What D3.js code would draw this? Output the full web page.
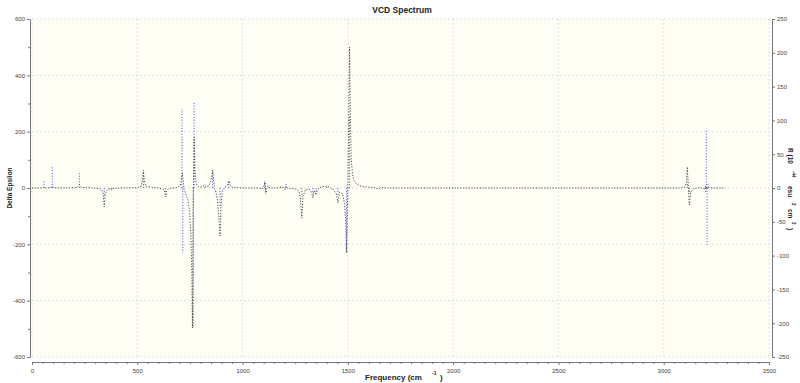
<!DOCTYPE html>
<html><head><meta charset="utf-8">
<script src="https://cdn.jsdelivr.net/npm/d3@7/dist/d3.min.js"></script>
<style>
body{margin:0;background:#fff;}
text{font-family:"Liberation Sans",Arial,sans-serif;}
</style></head>
<body><svg id="c" width="800" height="383"></svg>
<script>
// ---- data ----
const chartTitle = "VCD Spectrum";
const xTicks = [0,500,1000,1500,2000,2500,3000,3500];
const yLeftTicks = [600,400,200,0,-200,-400,-600];
const yRightTicks = [250,200,150,100,50,0,-50,-100,-150,-200,-250];
// Delta Epsilon spectrum (frequency, value)
const specFreq = [0,15,50,57,62,90,96,102,150,215,225,235,300,330,338,343,348,360,372,378,384,420,500,518,524,529,534,542,600,625,631,635,639,650,690,705,710,714,718,722,730,740,748,754,759,762,765,768,770,774,780,790,805,815,821,827,840,850,855,858,862,866,872,880,887,893,898,904,915,928,935,940,950,1000,1080,1095,1103,1107,1110,1114,1121,1126,1150,1195,1202,1206,1212,1250,1268,1275,1281,1287,1300,1318,1328,1334,1338,1344,1349,1354,1365,1377,1392,1400,1410,1430,1445,1453,1460,1475,1485,1490,1494,1500,1504,1508,1512,1516,1522,1530,1540,1555,1580,1620,1645,1660,1700,2000,2500,3000,3080,3100,3108,3112,3117,3122,3128,3140,3170,3195,3200,3204,3210,3230,3290];
const specDE   = [0,0,0,3,0,1,7,1,0,2,12,2,0,-4,-20,-67,-20,-3,-3,-8,-2,0,1,6,25,58,25,5,0,-5,-15,-32,-12,-2,2,10,30,53,25,-5,-20,-40,-80,-160,-300,-497,-100,100,181,60,15,5,3,8,10,4,8,25,45,64,30,0,-10,-40,-100,-170,-60,-10,2,10,25,12,3,0,0,-3,10,21,-18,-5,8,1,0,2,-5,6,0,-3,-12,-40,-107,-30,-5,-5,-15,-35,-10,-12,-25,-8,0,5,5,8,4,-5,-20,-53,-15,-20,-60,-120,-231,0,250,500,250,100,50,25,15,8,4,2,-3,1,0,0,0,0,0,3,20,75,0,-60,-15,-3,1,-3,8,-5,3,0,0];
// Rotational strengths (sticks)
const stickFreq = [57,96,225,343,378,529,635,712,716,766,770,821,858,893,935,1105,1109,1206,1281,1334,1349,1400,1453,1494,1508,3112,3122,3198,3202,3206,3210];
const stickR    = [12,31,22,-13,-4,27,-9,117,-96,-207,127,5,24,-28,12,10,-9,6,-13,-8,-6,4,-10,-95,108,8,-6,-8,86,-84,6];

// ---- layout ----
const svg = d3.select("#c");
const L=32, R=769, T=19, B=357;
const x = d3.scaleLinear().domain([0,3500]).range([L,R]);
const yL = d3.scaleLinear().domain([-600,600]).range([B,T]);
const yR = d3.scaleLinear().domain([-250,250]).range([B,T]);
const fmt = d => String(d);

svg.append("rect").attr("x",L).attr("y",T).attr("width",R-L).attr("height",B-T).attr("fill","#fffef4");

// grid
const grid = svg.append("g").attr("stroke","#cfcfcf").attr("stroke-width",0.8).attr("stroke-dasharray","1.5,2.5");
xTicks.forEach(v=>grid.append("line").attr("x1",x(v)).attr("x2",x(v)).attr("y1",T).attr("y2",B));
yLeftTicks.forEach(v=>grid.append("line").attr("x1",L).attr("x2",R).attr("y1",yL(v)).attr("y2",yL(v)));

// axes
const axCol="#777", txtCol="#444";
function styleAxis(g){
  g.select(".domain").attr("stroke",axCol);
  g.selectAll(".tick line").attr("stroke",axCol);
  g.selectAll(".tick text").attr("fill",txtCol).attr("font-size","6px").attr("font-family","Liberation Sans, Arial, sans-serif");
}
// bottom
const gx = svg.append("g").attr("transform",`translate(0,362)`)
  .call(d3.axisBottom(x).tickValues(xTicks).tickFormat(fmt).tickSize(3).tickSizeOuter(0).tickPadding(4));
styleAxis(gx);
const gxm = svg.append("g").attr("transform",`translate(0,362)`)
  .call(d3.axisBottom(x).tickValues(d3.range(0,3501,50).filter(v=>v%500)).tickSize(2).tickFormat(""));
gxm.select(".domain").remove(); gxm.selectAll("line").attr("stroke",axCol);
// left
const gl = svg.append("g").attr("transform",`translate(30,0)`)
  .call(d3.axisLeft(yL).tickValues(yLeftTicks).tickFormat(fmt).tickSize(3).tickSizeOuter(0).tickPadding(2));
styleAxis(gl);
const glm = svg.append("g").attr("transform",`translate(30,0)`)
  .call(d3.axisLeft(yL).tickValues([500,300,100,-100,-300,-500]).tickSize(2).tickFormat(""));
glm.select(".domain").remove(); glm.selectAll("line").attr("stroke",axCol);
// right
const gr = svg.append("g").attr("transform",`translate(772,0)`)
  .call(d3.axisRight(yR).tickValues(yRightTicks).tickFormat(fmt).tickSize(3).tickSizeOuter(0).tickPadding(2));
styleAxis(gr);

// sticks
svg.append("g").selectAll("line").data(stickFreq).join("line")
  .attr("x1",(d)=>x(d)).attr("x2",(d)=>x(d))
  .attr("y1",yR(0)).attr("y2",(d,i)=>yR(stickR[i]))
  .attr("stroke","#6060f0").attr("stroke-width",1).attr("stroke-dasharray","1.2,1.6");

// spectrum
const pts = specFreq.map((f,i)=>[f,specDE[i]]);
svg.append("path").datum(pts)
  .attr("d",d3.line().x(d=>x(d[0])).y(d=>yL(d[1])))
  .attr("fill","none").attr("stroke","#3a3a3a").attr("stroke-width",0.9).attr("stroke-dasharray","1.2,1.6");

// titles
svg.append("text").attr("x",402).attr("y",13).attr("text-anchor","middle")
  .attr("font-size","8.5px").attr("font-weight","bold").attr("fill","#222").text(chartTitle);
svg.append("text").attr("transform","translate(12,188) rotate(-90)").attr("text-anchor","middle")
  .attr("font-size","6.5px").attr("font-weight","bold").attr("fill","#222").text("Delta Epsilon");
const xt = svg.append("g").attr("font-weight","bold").attr("fill","#222");
xt.append("text").attr("x",365).attr("y",380).attr("font-size","8px").text("Frequency (cm");
xt.append("text").attr("x",432).attr("y",375).attr("font-size","5px").text("-1");
xt.append("text").attr("x",440).attr("y",380).attr("font-size","8px").text(")");
const rt = svg.append("g").attr("font-weight","bold").attr("fill","#222");
const rparts = [["R (10",148,0,"6.5px"],["-44",171,4,"4.5px"],["esu",186,0,"6.5px"],["2",203,4,"4.5px"],["cm",209,0,"6.5px"],["2",222,4,"4.5px"],[")",228,0,"6.5px"]];
rparts.forEach(p=>rt.append("text").attr("transform",`translate(${788+p[2]},${p[1]}) rotate(90)`).attr("font-size",p[3]).text(p[0]));
</script></body></html>
